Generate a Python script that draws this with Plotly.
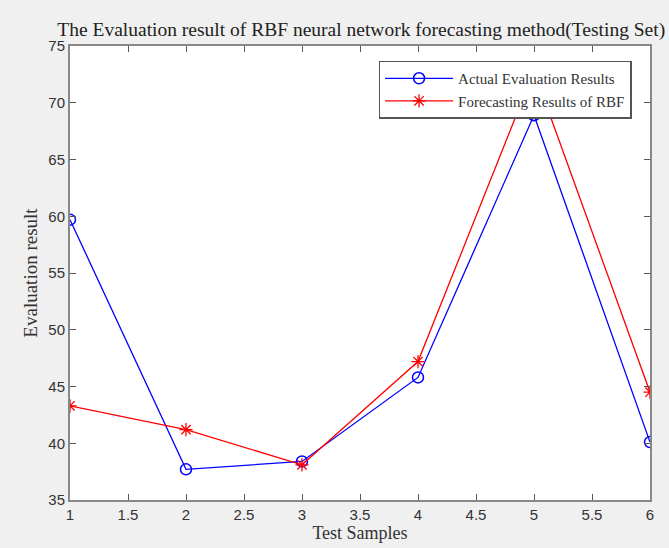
import plotly.graph_objects as go

samples = [1, 2, 3, 4, 5, 6]
actual = [59.7, 37.7, 38.4, 45.8, 68.9, 40.1]
forecast = [43.3, 41.2, 38.1, 47.2, 72.8, 44.5]
x_ticks = [1, 1.5, 2, 2.5, 3, 3.5, 4, 4.5, 5, 5.5, 6]
y_ticks = [35, 40, 45, 50, 55, 60, 65, 70, 75]

serif = "Liberation Serif, Times New Roman, serif"
sans = "Liberation Sans, Arial, sans-serif"

fig = go.Figure()
fig.add_trace(go.Scatter(
    x=samples, y=actual, mode="lines+markers", name="Actual Evaluation Results",
    line=dict(color="#0000ff", width=1.3),
    marker=dict(symbol="circle-open", size=11, color="#0000ff", line=dict(width=1.5)),
))
fig.add_trace(go.Scatter(
    x=samples, y=forecast, mode="lines+markers", name="Forecasting Results of RBF",
    line=dict(color="#ff0000", width=1.3),
    marker=dict(symbol="asterisk-open", size=11, color="#ff0000", line=dict(width=1.3, color="#ff0000")),
))

axis_common = dict(
    showgrid=False, zeroline=False, showline=True, linecolor="#888888", linewidth=2,
    mirror="allticks", ticks="inside", ticklen=6, tickcolor="#555555",
    tickfont=dict(family=sans, size=15, color="#333333"), automargin=False,
)
fig.update_xaxes(range=[1, 6], tickvals=x_ticks, ticktext=[str(v) for v in x_ticks],
                 title=dict(text="Test Samples", font=dict(family=serif, size=18, color="#333333"), standoff=0),
                 **axis_common)
fig.update_yaxes(range=[35, 75], tickvals=y_ticks,
                 title=dict(text="Evaluation result", font=dict(family=serif, size=19, color="#333333"), standoff=6),
                 **axis_common)

fig.update_layout(
    width=669, height=548,
    margin=dict(l=70, r=19, t=46, b=48, autoexpand=False),
    paper_bgcolor="#f0f0f0", plot_bgcolor="#ffffff",
    title=dict(text="The Evaluation result of RBF neural network forecasting method(Testing Set)",
               x=0.54, xanchor="center", y=0.947, yanchor="middle",
               font=dict(family=serif, size=19.5, color="#222222"), automargin=False),
    showlegend=True,
    legend=dict(x=0.532, y=0.968, xanchor="left", yanchor="top",
                bgcolor="#ffffff", bordercolor="#555555", borderwidth=1.5,
                font=dict(family=serif, size=15, color="#333333"),
                tracegroupgap=0, itemwidth=68),
)

fig.write_html("out.html", config={"displayModeBar": False},
               post_script="document.body.style.margin='0';document.body.style.background='#f0f0f0';")
